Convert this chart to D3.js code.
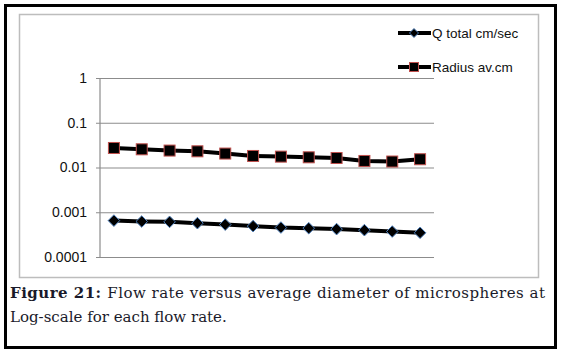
<!DOCTYPE html>
<html>
<head>
<meta charset="utf-8">
<script src="https://cdn.jsdelivr.net/npm/d3@7"></script>
<style>
  body { margin: 0; background: #fff; }
  svg { display: block; }
</style>
</head>
<body>
<div id="chart"></div>
<script>
// data
const categories = [1, 2, 3, 4, 5, 6, 7, 8, 9, 10, 11, 12];
const qTotal = [0.00065, 0.00062, 0.00061, 0.00057, 0.00053, 0.00049,
                0.000455, 0.00044, 0.00042, 0.000398, 0.00037, 0.000347];
const radiusAv = [0.0273, 0.0255, 0.0239, 0.0230, 0.0205, 0.0181,
                  0.0175, 0.0169, 0.0163, 0.0140, 0.0136, 0.0153];
const yTicks = [1, 0.1, 0.01, 0.001, 0.0001];
const seriesNames = ["Q total cm/sec", "Radius av.cm"];
const caption1 = "Flow rate versus average diameter of microspheres at";
const caption2 = "Log-scale for each flow rate.";

const W = 562, H = 352;
const svg = d3.select("#chart").append("svg")
  .attr("width", W).attr("height", H);

// outer frame
svg.append("rect")
  .attr("x", 5.5).attr("y", 5.5).attr("width", 550).attr("height", 342)
  .attr("fill", "#fff").attr("stroke", "#000").attr("stroke-width", 3);

// chart area box
svg.append("rect")
  .attr("x", 19.5).attr("y", 14.5).attr("width", 519).attr("height", 263)
  .attr("fill", "#fff").attr("stroke", "#bdbdbd").attr("stroke-width", 1.5);

const x = d3.scaleBand().domain(categories).range([100, 434]);
const y = d3.scaleLog().domain([0.0001, 1]).range([257, 78]);
const cx = d => x(d) + x.bandwidth() / 2;

// grid + y axis
const yAxis = d3.axisLeft(y)
  .tickValues(yTicks)
  .tickFormat(d => String(d))
  .tickSize(-(434 - 96))
  .tickPadding(9);

const ga = svg.append("g")
  .attr("transform", "translate(96,0)")
  .call(yAxis);
ga.select(".domain").remove();
ga.selectAll(".tick line")
  .attr("x1", 0).attr("x2", 338)
  .attr("stroke", "#8c8c8c").attr("stroke-width", 1.2);
ga.selectAll(".tick text")
  .attr("font-family", "'Liberation Sans Narrow', 'Liberation Sans', Arial, sans-serif")
  .attr("font-size", 14).attr("fill", "#111");

svg.append("line")
  .attr("x1", 100).attr("x2", 100).attr("y1", y(1)).attr("y2", y(0.0001))
  .attr("stroke", "#8c8c8c").attr("stroke-width", 1.2);

const line = d3.line().x((d, i) => cx(categories[i])).y(d => y(d));

// diamond marker as a rotated square
const diamondPath = r => `M0,${-r}L${r},0L0,${r}L${-r},0Z`;

// Q total series
svg.append("path").datum(qTotal)
  .attr("fill", "none").attr("stroke", "#000").attr("stroke-width", 4)
  .attr("d", line);
svg.selectAll(".qpt").data(qTotal).enter().append("path")
  .attr("class", "qpt")
  .attr("d", diamondPath(5.8))
  .attr("transform", (d, i) => `translate(${cx(categories[i])},${y(d)})`)
  .attr("fill", "#000").attr("stroke", "#4f81bd").attr("stroke-width", 1);

// Radius series
svg.append("path").datum(radiusAv)
  .attr("fill", "none").attr("stroke", "#000").attr("stroke-width", 4)
  .attr("d", line);
svg.selectAll(".rpt").data(radiusAv).enter().append("rect")
  .attr("class", "rpt")
  .attr("x", (d, i) => cx(categories[i]) - 5.5)
  .attr("y", d => y(d) - 5.5)
  .attr("width", 11).attr("height", 11)
  .attr("fill", "#000").attr("stroke", "#c0504d").attr("stroke-width", 1);

// legend
const leg = svg.append("g");
seriesNames.forEach((name, i) => {
  const ly = 33 + i * 34;
  leg.append("line")
    .attr("x1", 398).attr("x2", 431).attr("y1", ly).attr("y2", ly)
    .attr("stroke", "#000").attr("stroke-width", 4);
  if (i === 0) {
    leg.append("path").attr("d", diamondPath(4.5))
      .attr("transform", `translate(414,${ly})`)
      .attr("fill", "#000").attr("stroke", "#4f81bd");
  } else {
    leg.append("rect")
      .attr("x", 409.5).attr("y", ly - 4.5).attr("width", 9).attr("height", 9)
      .attr("fill", "#000").attr("stroke", "#c0504d");
  }
  leg.append("text")
    .attr("x", 432).attr("y", ly + 5)
    .attr("font-family", "'Liberation Sans Narrow', 'Liberation Sans', Arial, sans-serif")
    .attr("font-size", 13.5).attr("fill", "#111")
    .text(name);
});

// caption
const cap = svg.append("text")
  .attr("x", 10).attr("y", 298)
  .attr("font-family", "'DejaVu Serif', 'Liberation Serif', serif")
  .attr("font-size", 15).attr("fill", "#1a1a2a")
  .attr("textLength", 535).attr("lengthAdjust", "spacing");
cap.append("tspan").attr("font-weight", "bold").text("Figure 21: ");
cap.append("tspan").text(caption1);

svg.append("text")
  .attr("x", 10).attr("y", 322)
  .attr("font-family", "'DejaVu Serif', 'Liberation Serif', serif")
  .attr("font-size", 15).attr("fill", "#1a1a2a")
  .text(caption2);
</script>
</body>
</html>
